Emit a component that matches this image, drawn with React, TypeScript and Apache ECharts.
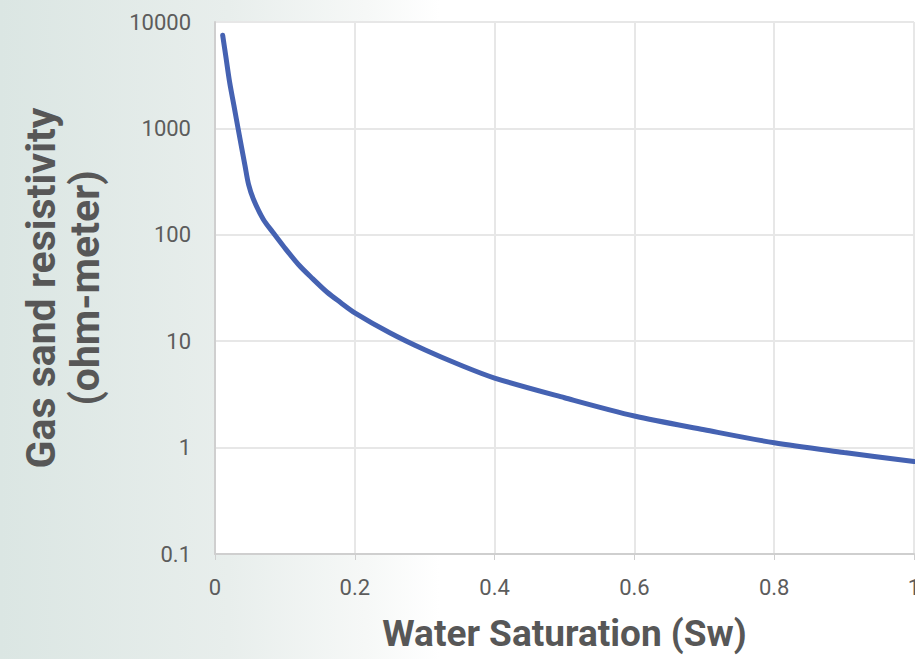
import React, { useEffect, useRef } from "react";
import * as echarts from "echarts";

const waterSaturation = [0.011, 0.016, 0.021, 0.027, 0.033, 0.043, 0.048, 0.055, 0.069, 0.083, 0.098, 0.12, 0.14, 0.16, 0.18, 0.2, 0.25, 0.3, 0.35, 0.4, 0.5, 0.6, 0.7, 0.8, 0.9, 1.0];
const resistivity = [7500, 4500, 2700, 1650, 1000, 443, 298, 216, 140, 105, 78, 52, 38.5, 29, 23, 18.5, 12, 8.3, 6.0, 4.5, 2.94, 1.98, 1.47, 1.11, 0.9, 0.74];
const yTicks = ["0.1", "1", "10", "100", "1000", "10000"];
const xTitle = "Water Saturation (Sw)";
const yTitle = "Gas sand resistivity\n(ohm-meter)";

export default function App() {
  const ref = useRef<HTMLDivElement>(null);
  useEffect(() => {
    if (!ref.current) return;
    const chart = echarts.init(ref.current, null, { renderer: "svg" });
    const data = waterSaturation.map((x, i) => [x, resistivity[i]]);
    chart.setOption({
      animation: false,
      grid: {
        left: 215,
        right: 1,
        top: 22,
        bottom: 105,
        show: true,
        backgroundColor: "#ffffff",
        borderWidth: 0,
        containLabel: false,
        outerBoundsMode: "none",
      },
      xAxis: {
        type: "value",
        min: 0,
        max: 1,
        interval: 0.2,
        name: xTitle,
        nameLocation: "middle",
        nameGap: 61,
        nameTextStyle: {
          fontFamily: "Roboto",
          fontWeight: "bold",
          fontSize: 37,
          color: "#575757",
        },
        axisLine: { show: true, lineStyle: { color: "#cfcfcf", width: 2 } },
        axisTick: { show: true, length: 6, lineStyle: { color: "#cfcfcf", width: 1 } },
        axisLabel: {
          show: true,
          showMaxLabel: true,
          margin: 22,
          fontFamily: "Roboto",
          fontSize: 22,
          color: "#5c5c5c",
          formatter: (v: number) => String(Math.round(v * 10) / 10),
        },
        splitLine: { show: true, lineStyle: { color: "#e7e7e7", width: 2 } },
      },
      yAxis: {
        type: "log",
        logBase: 10,
        min: 0.1,
        max: 10000,
        name: yTitle,
        nameLocation: "middle",
        nameGap: 108,
        nameRotate: 90,
        nameTextStyle: {
          fontFamily: "Roboto",
          fontWeight: "bold",
          fontSize: 41,
          color: "#575757",
          lineHeight: 44,
          align: "center",
        },
        axisLine: { show: true, lineStyle: { color: "#cfcfcf", width: 2 } },
        axisTick: { show: false },
        axisLabel: {
          margin: 24,
          fontFamily: "Roboto",
          fontSize: 22,
          color: "#5c5c5c",
          formatter: (v: number) => {
            const idx = Math.round(Math.log10(v)) + 1;
            return yTicks[idx] ?? String(v);
          },
        },
        splitLine: { show: true, lineStyle: { color: "#e7e7e7", width: 2 } },
      },
      series: [
        {
          type: "line",
          data,
          smooth: 0.3,
          showSymbol: false,
          lineStyle: { color: "#4562b2", width: 5, cap: "round" },
          clip: false,
        },
      ],
    });
    return () => chart.dispose();
  }, []);
  return (
    <div
      ref={ref}
      style={{
        position: "fixed",
        left: 0,
        top: 0,
        width: 915,
        height: 659,
        background: "linear-gradient(to right, #dbe6e3 0%, #e8eeec 25%, #f6f8f7 40%, #ffffff 48%, #ffffff 100%)",
      }}
    />
  );
}
